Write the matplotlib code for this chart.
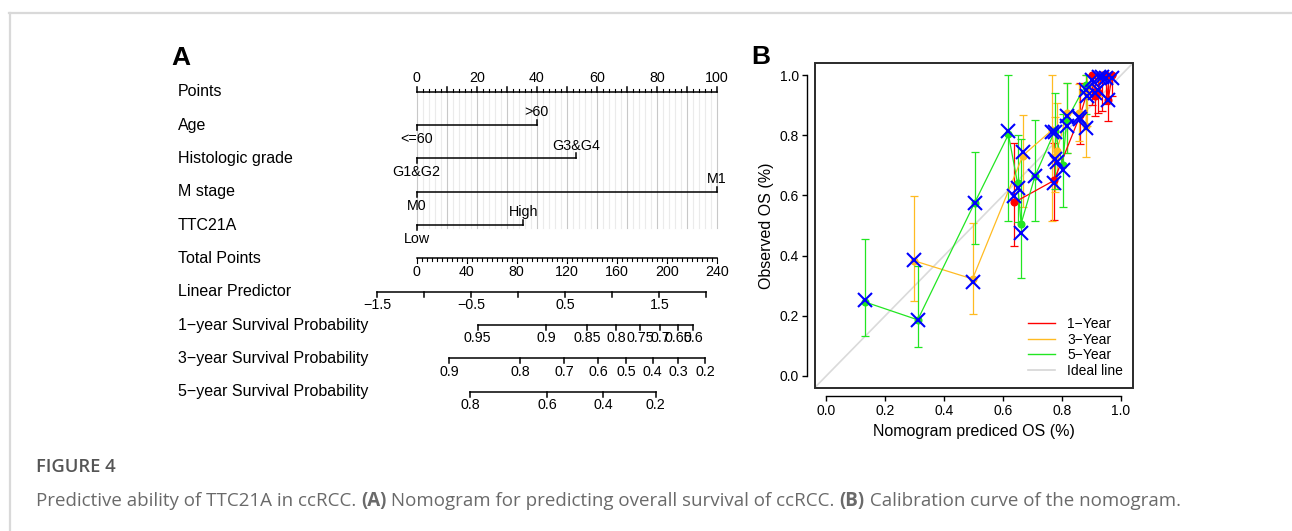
import numpy as np
import matplotlib
matplotlib.use("Agg")
import matplotlib.pyplot as plt
from matplotlib.patches import Rectangle
from matplotlib.lines import Line2D

plt.rcParams['font.family'] = ['Liberation Sans', 'DejaVu Sans']

# ---------------- nomogram (A) data ----------------
row_labels = ["Points", "Age", "Histologic grade", "M stage", "TTC21A", "Total Points",
              "Linear Predictor", "1\u2212year Survival Probability",
              "3\u2212year Survival Probability", "5\u2212year Survival Probability"]

var_levels = [["<=60", ">60"], ["G1&G2", "G3&G4"], ["M0", "M1"], ["Low", "High"]]
var_points = [[0, 40], [0, 53], [0, 100], [0, 35.5]]

points_ticks = np.arange(0, 101, 20)
total_ticks = np.arange(0, 241, 40)
lp_ticks = [-1.5, -1.0, -0.5, 0.0, 0.5, 1.0, 1.5, 2.0]
lp_labels = ["\u22121.5", "", "\u22120.5", "", "0.5", "", "1.5", ""]

surv1_labels = ["0.95", "0.9", "0.85", "0.8", "0.75", "0.7", "0.65", "0.6"]
surv1_lp = [-0.43, 0.30, 0.73, 1.04, 1.30, 1.51, 1.70, 1.86]
surv3_labels = ["0.9", "0.8", "0.7", "0.6", "0.5", "0.4", "0.3", "0.2"]
surv3_lp = [-0.73, 0.02, 0.49, 0.85, 1.15, 1.43, 1.70, 1.99]
surv5_labels = ["0.8", "0.6", "0.4", "0.2"]
surv5_lp = [-0.51, 0.31, 0.90, 1.46]

# ---------------- calibration (B) data ----------------
red_x = [0.638, 0.773, 0.862, 0.903, 0.913, 0.922, 0.935, 0.948, 0.957, 0.970]
red_y = [0.577, 0.650, 0.868, 1.000, 0.930, 0.946, 1.000, 1.000, 0.919, 1.000]
red_lo = [0.431, 0.519, 0.770, 0.900, 0.864, 0.875, 0.880, 0.905, 0.848, 0.930]
red_hi = [0.773, 0.775, 0.975, 1.000, 0.990, 1.000, 1.000, 1.000, 0.990, 1.000]
red_cx = [0.597, 0.640, 0.855, 0.985, 0.940, 0.950, 0.995, 0.990, 0.919, 0.990]

or_x = [0.296, 0.496, 0.667, 0.765, 0.776, 0.782, 0.818, 0.859, 0.881, 0.886, 0.926]
or_y = [0.383, 0.322, 0.733, 0.817, 0.728, 0.747, 0.875, 0.875, 0.830, 0.941, 1.000]
or_lo = [0.248, 0.206, 0.560, 0.516, 0.610, 0.620, 0.740, 0.780, 0.728, 0.830, 0.930]
or_hi = [0.597, 0.508, 0.869, 1.000, 0.860, 0.908, 0.975, 0.970, 1.000, 1.000, 1.000]
or_cx = [0.385, 0.311, 0.744, 0.810, 0.720, 0.712, 0.865, 0.860, 0.826, 0.930, 0.995]

gr_x = [0.132, 0.310, 0.503, 0.618, 0.649, 0.661, 0.708, 0.776, 0.802, 0.816, 0.881]
gr_y = [0.245, 0.186, 0.575, 0.803, 0.640, 0.506, 0.664, 0.816, 0.700, 0.852, 0.969]
gr_lo = [0.131, 0.094, 0.440, 0.516, 0.510, 0.325, 0.516, 0.620, 0.562, 0.740, 0.870]
gr_hi = [0.456, 0.364, 0.745, 1.000, 0.800, 0.788, 0.850, 0.940, 0.870, 0.974, 1.000]
gr_cx = [0.253, 0.186, 0.575, 0.814, 0.625, 0.475, 0.664, 0.810, 0.686, 0.830, 0.950]

series_names = ["1\u2212Year", "3\u2212Year", "5\u2212Year"]
series_colors = ["#ff0000", "#ffbb22", "#22e622"]

caption_title = "FIGURE 4"
caption_parts = [("Predictive ability of TTC21A in ccRCC. ", "normal"), ("(A)", "bold"),
                 (" Nomogram for predicting overall survival of ccRCC. ", "normal"),
                 ("(B)", "bold"), (" Calibration curve of the nomogram.", "normal")]

W, H = 1292, 531
fig = plt.figure(figsize=(W / 100, H / 100), dpi=100)

# card border
fig.add_artist(Line2D([9 / W, 1], [1 - 12.5 / H] * 2, color="#d9d9d9", lw=1.6))
fig.add_artist(Line2D([9.5 / W] * 2, [0, 1 - 12.5 / H], color="#d9d9d9", lw=1.6))


def lp2pts(lp):
    return 31.355 * np.asarray(lp) + 33.80


# ---------------- panel A ----------------
axA = fig.add_axes([170 / W, 1 - 420 / H, 570 / W, 380 / H])
axA.set_xlim((170 - 416.7) / 3.0011, (740 - 416.7) / 3.0011)
axA.set_ylim(9.85, -1.551)
axA.axis("off")
tk = 0.15
lab_off = 0.40
fs_tick = 10.3
lw_ax = 1.1

for i, lab in enumerate(row_labels):
    axA.text(-79.5, i, lab, ha="left", va="center", fontsize=11.5)

# grid behind variable rows
for v in range(0, 101, 2):
    col = "#c8c8c8" if v % 10 == 0 else "#ebebeb"
    axA.plot([v, v], [0, 4.1], color=col, lw=0.8, zorder=0)

# points axis
axA.plot([0, 100], [0, 0], color="black", lw=lw_ax)
for v in range(0, 101, 2):
    ln = tk if v % 10 == 0 else 0.07
    axA.plot([v, v], [0, -ln], color="black", lw=lw_ax if v % 10 == 0 else 0.8)
for v in points_ticks:
    axA.text(v, -lab_off, str(v), ha="center", va="center", fontsize=fs_tick)

# variable rows
for r, (levels, pts) in enumerate(zip(var_levels, var_points), start=1):
    axA.plot([pts[0], pts[1]], [r, r], color="black", lw=lw_ax)
    axA.plot([pts[0], pts[0]], [r, r + tk], color="black", lw=lw_ax)
    axA.plot([pts[1], pts[1]], [r, r - tk], color="black", lw=lw_ax)
    axA.text(pts[0], r + lab_off + 0.02, levels[0], ha="center", va="center", fontsize=fs_tick)
    axA.text(pts[1], r - lab_off + 0.02, levels[1], ha="center", va="center", fontsize=fs_tick)

# total points
r = 5
axA.plot([0, 100], [r, r], color="black", lw=lw_ax)
for v in range(0, 241, 4):
    ln = tk if v % 40 == 0 else 0.09
    axA.plot([v / 2.4] * 2, [r, r + ln], color="black", lw=0.8)
for v in total_ticks:
    axA.text(v / 2.4, r + lab_off, str(v), ha="center", va="center", fontsize=fs_tick)

# linear predictor
r = 6
axA.plot(lp2pts([lp_ticks[0], lp_ticks[-1]]), [r, r], color="black", lw=lw_ax)
for v, lab in zip(lp_ticks, lp_labels):
    x = lp2pts(v)
    axA.plot([x, x], [r, r + tk], color="black", lw=lw_ax)
    if lab:
        axA.text(x, r + lab_off, lab, ha="center", va="center", fontsize=fs_tick)

# survival probability axes
for r, lps, labs in [(7, surv1_lp, surv1_labels), (8, surv3_lp, surv3_labels), (9, surv5_lp, surv5_labels)]:
    xs = lp2pts(lps)
    axA.plot([xs[0], xs[-1]], [r, r], color="black", lw=lw_ax)
    for x, lab in zip(xs, labs):
        axA.plot([x, x], [r, r + tk], color="black", lw=lw_ax)
        axA.text(x, r + lab_off, lab, ha="center", va="center", fontsize=fs_tick)

fig.text(171 / W, 1 - 65 / H, "A", fontsize=19, fontweight="bold", ha="left", va="baseline")
fig.text(751 / W, 1 - 63.5 / H, "B", fontsize=19, fontweight="bold", ha="left", va="baseline")

# ---------------- panel B ----------------
axB = fig.add_axes([814.7 / W, 1 - 387.7 / H, 318 / W, 324.4 / H])
axB.set_xlim(-0.04, 1.04)
axB.set_ylim(-0.04, 1.04)
axB.axline((0, 0), slope=1, color="#dadada", lw=1.2, zorder=1)

data = [(red_x, red_y, red_lo, red_hi, red_cx),
        (or_x, or_y, or_lo, or_hi, or_cx),
        (gr_x, gr_y, gr_lo, gr_hi, gr_cx)]
for (x, y, lo, hi, cx), col, name in zip(data, series_colors, series_names):
    x = np.array(x)
    y = np.array(y)
    yerr = [y - np.array(lo), np.array(hi) - y]
    axB.errorbar(x, y, yerr=yerr, fmt="none", ecolor=col, elinewidth=0.9,
                 capsize=2.6, capthick=0.9, zorder=2)
    axB.plot(x, y, color=col, lw=0.9, zorder=3, label=name)
    axB.plot(x, y, "o", color=col, ms=4.8, mec=col, zorder=4)
for (x, y, lo, hi, cx) in data:
    axB.plot(x, cx, "x", color="#0000ff", ms=10, mew=1.5, zorder=5)

handles = [Line2D([], [], color=c, lw=1.0) for c in series_colors] + \
          [Line2D([], [], color="#d6d6d6", lw=1.2)]
axB.legend(handles, series_names + ["Ideal line"], loc="lower right", frameon=False,
           fontsize=10, handlelength=1.9, handletextpad=0.9, labelspacing=0.12,
           borderaxespad=0.3)

for s in ["top", "right"]:
    axB.spines[s].set_visible(False)
for s in ["left", "bottom"]:
    axB.spines[s].set_position(("outward", 5.8))
    axB.spines[s].set_bounds(0, 1)
    axB.spines[s].set_linewidth(1.0)
axB.add_patch(Rectangle((0, 0), 1, 1, transform=axB.transAxes, fill=False,
                        ec="#2a2a2a", lw=1.4, clip_on=False, zorder=6))
ticks = np.arange(0, 1.01, 0.2)
axB.set_xticks(ticks)
axB.set_yticks(ticks)
axB.set_xticklabels([f"{t:.1f}" for t in ticks])
axB.set_yticklabels([f"{t:.1f}" for t in ticks])
axB.tick_params(labelsize=10, length=3.6, width=1.0, pad=2)
axB.set_xlabel("Nomogram prediced OS (%)", fontsize=11.5, labelpad=5)
axB.set_ylabel("Observed OS (%)", fontsize=11.5, labelpad=4)

# ---------------- caption ----------------
fig.text(36 / W, 1 - 467 / H, caption_title, fontsize=13.2, color="#555555",
         family="Open Sans", fontweight="semibold", va="center")
fig.canvas.draw()
renderer = fig.canvas.get_renderer()
xpos = 36 / W
for txt, wt in caption_parts:
    t = fig.text(xpos, 1 - 501 / H, txt, fontsize=13.5, color="#6a6a6a",
                 family="Open Sans", fontweight=wt, va="center")
    xpos += t.get_window_extent(renderer).width / W

fig.savefig("out.png", dpi=100)
